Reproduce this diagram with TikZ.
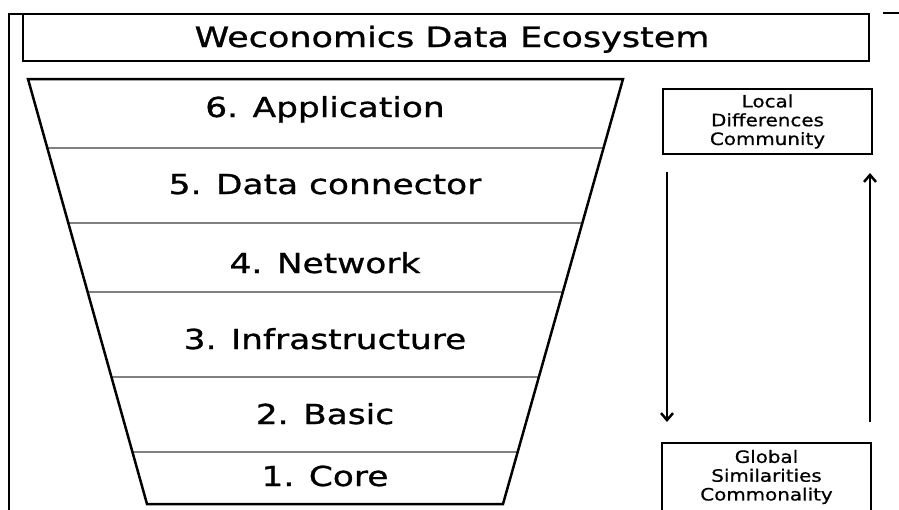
\documentclass[tikz,border=0pt]{standalone}
\usepackage{fontspec}
\setmainfont{DejaVu Sans}
\newfontfamily\widefont[FakeStretch=1.25,FakeBold=1]{DejaVu Sans}
\newfontfamily\boxfont[FakeStretch=1.17,FakeBold=0.8]{DejaVu Sans}
\usetikzlibrary{arrows.meta,calc}

\begin{document}
\begin{tikzpicture}[x=1pt,y=-1pt,
  frame/.style={line width=2.5pt},
  titletext/.style={font=\widefont\fontsize{28}{32}\selectfont, anchor=base, inner sep=0pt},
  layer/.style={font=\widefont\fontsize{27.5}{32}\selectfont, anchor=base, inner sep=0pt},
  divider/.style={line width=1.5pt, draw=black!50},
  sidebox/.style={draw, line width=2.5pt, minimum width=209pt, align=center,
    font=\boxfont\fontsize{17}{18.8}\selectfont, inner sep=0pt},
  flow/.style={line width=2.5pt, -{Straight Barb[length=7pt,width=12pt]}}
]
\useasboundingbox (0,0) rectangle (899,509);
\fill[white] (0,0) rectangle (899,509);

% outer frame pieces
\draw[frame] (9,515) -- (9,14) -- (23,14);
\draw[frame] (883,13) -- (905,13);

% title box
\node[draw, line width=2.5pt, minimum width=846pt, minimum height=47pt, inner sep=0pt]
  (title) at (446,37.5) {};
\node[titletext] (titlelabel) at (452,47) {Weconomics Data Ecosystem};

% funnel
\coordinate (tl) at (28,79);
\coordinate (tr) at (623,79);
\coordinate (br) at (503,504);
\coordinate (bl) at (147,504);

\foreach \y in {148,223,292,377,452}{
  \pgfmathsetmacro{\t}{(\y-79)/425}
  \draw[divider] ($(tl)!\t!(bl)$) -- ($(tr)!\t!(br)$);
}
\draw[line width=2.5pt, line join=miter] (tl) -- (tr) -- (br) -- (bl) -- cycle;

\node[layer] (l6) at (325,117) {6. Application};
\node[layer] (l5) at (325,194) {5. Data connector};
\node[layer] (l4) at (325,273) {4. Network};
\node[layer] (l3) at (325,349) {3. Infrastructure};
\node[layer] (l2) at (325,424) {2. Basic};
\node[layer] (l1) at (325,486) {1. Core};

% side boxes
\node[sidebox, minimum height=65pt] (local) at (767.5,121.5)
  {Local\\Differences\\Community};
\node[sidebox, minimum height=68pt] (global) at (766.5,477)
  {Global\\Similarities\\Commonality};

% flow arrows
\coordinate (downstart) at (667,172);
\coordinate (downend) at (667,422);
\coordinate (upstart) at (870,422);
\coordinate (upend) at (870,173);
\draw[flow] (downstart) -- (downend);
\draw[flow] (upstart) -- (upend);
\end{tikzpicture}
\end{document}
